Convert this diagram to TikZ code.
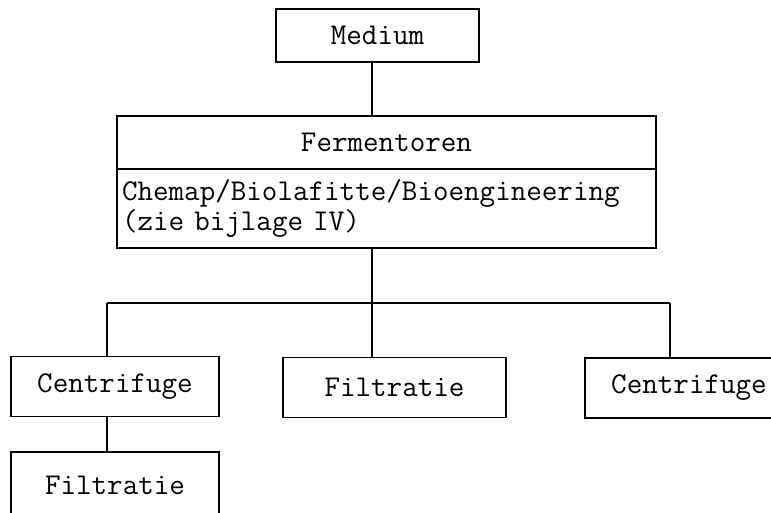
\documentclass[tikz,border=0pt]{standalone}
\usepackage{fontspec}
\usepackage{tikz}
\usetikzlibrary{positioning}

\tikzset{box/.style={draw, rectangle, line width=0.6pt, outer sep=0pt, minimum height=30pt,
    font=\ttfamily\fontsize{15.1}{13.6}\selectfont}}

\begin{document}
\begin{tikzpicture}[x=0.5pt, y=-0.5pt, line width=0.6pt]
    \clip (0,0) rectangle (771,513);
    \node [box, minimum width=101.5pt, minimum height=26.5pt] (medium) at (377.5,35.5) {Medium};
    \node [box, minimum width=269.5pt, minimum height=26.5pt] (ferm) at (386.5,142.5) {Fermentoren};
    \node [box, below=0pt of ferm, minimum width=269.5pt, minimum height=39.5pt,
        text width=264.5pt, inner xsep=2.5pt, align=left] (fermtype)
        {Chemap/Biolafitte/Bioengineering\\(zie bijlage IV)};

    \node [box, minimum width=104pt] (centA) at (115,386.5) {Centrifuge};
    \node [box, minimum width=111.5pt] (filtB) at (394.5,387.5) {Filtratie};
    \node [box, minimum width=104pt] (centC) at (689,388) {Centrifuge};
    \node [box, minimum width=104pt, minimum height=33pt] (filtA) at (115,485) {Filtratie};

    \coordinate (split) at (372,303);
    \coordinate (splitL) at (107,303);
    \coordinate (splitR) at (670,303);

    \draw (medium.south -| split) -- (ferm.north -| split);
    \draw (fermtype.south -| split) -- (split);

    % branches to the separation steps
    \draw (splitL) -- (splitR);
    \draw (splitL) -- (centA.north -| splitL);
    \draw (split) -- (filtB.north -| split);
    \draw (splitR) -- (centC.north -| splitR);
    \draw (centA.south -| splitL) -- (filtA.north -| splitL);
\end{tikzpicture}
\end{document}
